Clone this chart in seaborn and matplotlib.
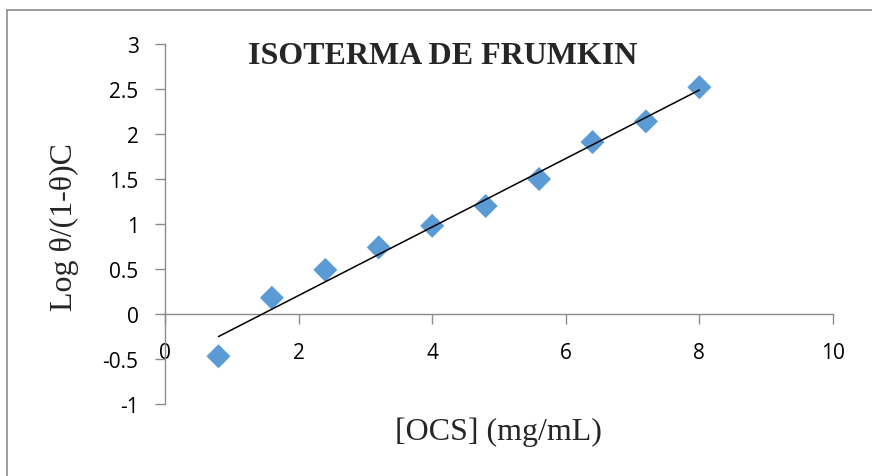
import numpy as np
import pandas as pd
import matplotlib
matplotlib.use("Agg")
import matplotlib.pyplot as plt
from matplotlib.lines import Line2D
import seaborn as sns

# Concentration of OCS (mg/mL) and log θ/(1-θ)C values
conc = [0.8, 1.6, 2.4, 3.2, 4.0, 4.8, 5.6, 6.4, 7.2, 8.0]
log_theta = [-0.47, 0.18, 0.49, 0.74, 0.98, 1.20, 1.50, 1.91, 2.14, 2.52]
x_ticks = [0, 2, 4, 6, 8, 10]
y_ticks = [-1, -0.5, 0, 0.5, 1, 1.5, 2, 2.5, 3]
y_tick_labels = ["-1", "-0.5", "0", "0.5", "1", "1.5", "2", "2.5", "3"]

df = pd.DataFrame({"conc": conc, "log_theta": log_theta})

sns.set_theme(style="white")
plt.rcParams["font.family"] = ["Open Sans", "DejaVu Sans"]

fig = plt.figure(figsize=(8.72, 4.77), dpi=100)
ax = fig.add_axes([165 / 872, 1 - 405 / 477, 668 / 872, 360 / 477])

sns.scatterplot(data=df, x="conc", y="log_theta", ax=ax, marker="D",
                s=150, color="#5B9BD5", edgecolor="none", zorder=3)

# Linear trendline over the data range
slope, intercept = np.polyfit(df["conc"], df["log_theta"], 1)
xs = np.array([min(conc), max(conc)])
ax.plot(xs, slope * xs + intercept, color="black", lw=1.1, zorder=4)

ax.set_xlim(0, 10)
ax.set_ylim(-1, 3)
ax.set_xticks(x_ticks)
ax.set_yticks(y_ticks)
ax.set_yticklabels(y_tick_labels)

spine_col = "#8c8c8c"
for s in ["top", "right"]:
    ax.spines[s].set_visible(False)
ax.spines["bottom"].set_position(("data", 0))
ax.spines["left"].set_position(("data", 0))
for s in ["bottom", "left"]:
    ax.spines[s].set_color(spine_col)
    ax.spines[s].set_linewidth(1.0)

ax.tick_params(axis="x", direction="out", length=7, width=1.0, color=spine_col,
               labelsize=15, labelcolor="black", pad=13, bottom=True)
ax.tick_params(axis="y", direction="out", length=7, width=1.0, color=spine_col,
               labelsize=15, labelcolor="black", pad=12, left=True)

ax.set_xlabel("")
ax.set_ylabel("")

serif = ["Liberation Serif", "DejaVu Serif"]
fig.text(443 / 872, 1 - 57 / 477, "ISOTERMA DE FRUMKIN", ha="center", va="center",
         fontsize=23, fontweight="bold", family=serif)
fig.text(498 / 872, 1 - 432 / 477, "[OCS] (mg/mL)", ha="center", va="center",
         fontsize=23, family=serif)
fig.text(64 / 872, 1 - 227 / 477, "Log θ/(1-θ)C", ha="center", va="center",
         rotation=90, fontsize=23, family=serif)

# Chart border
fig.add_artist(Line2D([7 / 872, 1.0], [1 - 11 / 477, 1 - 11 / 477],
                      transform=fig.transFigure, color="#8c8c8c", lw=1.2))
fig.add_artist(Line2D([7 / 872, 7 / 872], [0.0, 1 - 11 / 477],
                      transform=fig.transFigure, color="#8c8c8c", lw=1.2))

fig.savefig("out.png", dpi=100)
